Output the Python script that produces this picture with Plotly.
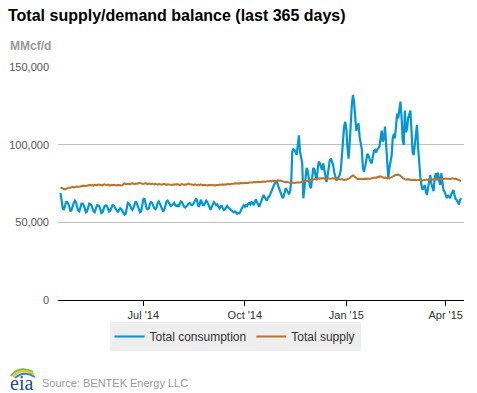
import pandas as pd
import plotly.graph_objects as go

# ---------------- data ----------------
start_date = "2014-04-17"

total_consumption = [
    69000, 64000, 59000, 58000, 61000, 63000, 63000,
    62000, 60000, 57000, 58000, 61000, 62500, 64000,
    63000, 60000, 57500, 57000, 60000, 62000, 62000,
    61000, 59000, 56500, 57000, 60000, 62000, 61500,
    61000, 59000, 57000, 56500, 59500, 61000, 61000,
    60500, 58500, 56000, 56500, 59000, 60500, 61000,
    60500, 59000, 57000, 57500, 59500, 61000, 61000,
    60000, 59000, 57500, 56500, 58000, 59000, 58500,
    57500, 56000, 55000, 55500, 59000, 62500, 62000,
    61000, 59000, 58000, 59000, 62000, 63500, 62500,
    60000, 58000, 56500, 57000, 62000, 64500, 65500,
    62000, 59000, 58500, 59000, 62000, 63000, 62500,
    60000, 59000, 58500, 59500, 62500, 63500, 62000,
    60000, 58500, 57000, 58000, 61000, 63500, 64000,
    63000, 62000, 60500, 61000, 62000, 62500, 61000,
    60500, 61000, 60000, 62000, 63500, 63000, 61000,
    60000, 59500, 60000, 61000, 62000, 62500, 61500,
    61000, 61500, 63000, 65000, 65500, 63000, 60000,
    61000, 64500, 63000, 61000, 61000, 62500, 64000,
    63000, 61000, 59000, 58000, 60000, 62000, 63000,
    62000, 61000, 61500, 60000, 59000, 60000, 61000,
    59000, 58000, 58500, 60000, 60500, 59500, 59000,
    58000, 58000, 57000, 56500, 57000, 56000, 55500,
    56000, 55800, 57000, 59000, 60000, 61000, 60000,
    61000, 60500, 62000, 62500, 61500, 63000, 62600,
    61000, 63000, 64800, 63000, 61000, 60000, 62000,
    64000, 64800, 67600, 66000, 65000, 64000, 66000,
    66500, 68000, 70000, 72000, 74000, 75000, 76000,
    76000, 74000, 72000, 69000, 67000, 66000, 66000,
    69000, 72000, 71000, 69000, 68000, 70000, 76000,
    95500, 97000, 96600, 95000, 93400, 100000, 106000,
    95500, 92000, 88000, 65500, 72000, 80000, 85000,
    83000, 78000, 73000, 72000, 78000, 85000, 84000,
    81000, 77000, 84000, 89000, 88000, 85000, 83700,
    88000, 84000, 80500, 76000, 80000, 84000, 90000,
    91000, 89000, 87000, 82000, 79000, 77000, 78000,
    79000, 80500, 84000, 92000, 105000, 112000, 114800,
    110000, 98000, 91000, 101000, 115000, 126000, 132000,
    127000, 118000, 109000, 112000, 113700, 105000, 100000,
    97000, 85000, 82600, 86000, 90000, 94000, 93000,
    90000, 89000, 88000, 92000, 96000, 96600, 95000,
    97000, 97600, 99000, 104000, 109000, 102000, 104000,
    111600, 100000, 88000, 78300, 85000, 89000, 93000,
    104000, 107000, 104000, 115000, 120000, 117000, 124000,
    127700, 118000, 103000, 99800, 122000, 108000, 110000,
    117000, 120000, 122000, 109000, 95000, 93300, 100000,
    110000, 112700, 98000, 85000, 79400, 74000, 71000,
    72000, 74000, 70000, 67600, 72000, 78000, 80500,
    75000, 72000, 70000, 78000, 81600, 78000, 82000,
    77000, 74000, 81600, 76000, 70800, 69700, 67000,
    65500, 67600, 66000, 65500, 68000, 69700, 70800,
    67600, 65000, 64400, 62200, 61500, 64400, 65500,
]

total_supply = [
    72400, 72100, 71800, 71300, 71200, 71500, 71900,
    72200, 72400, 72300, 72600, 72800, 72500, 72700,
    72900, 73100, 72800, 73000, 73300, 73100, 73400,
    73600, 73300, 73500, 73800, 73600, 73900, 74100,
    73800, 74000, 73700, 74200, 74000, 73800, 74300,
    74100, 74400, 74000, 73800, 74200, 74500, 74100,
    73900, 74300, 74000, 73700, 74100, 73900, 74200,
    74000, 73600, 73800, 74100, 73900, 73500, 73700,
    74000, 74600, 75000, 74700, 74900, 74600, 74800,
    74500, 74900, 75200, 74800, 74600, 75000, 74700,
    74900, 75400, 75100, 74800, 75000, 74700, 74900,
    75200, 74800, 74600, 75000, 74700, 74500, 74900,
    74600, 74400, 74800, 74500, 74300, 74700, 74400,
    74600, 74200, 74500, 74800, 74400, 74100, 74500,
    74300, 74600, 74200, 74000, 74400, 74100, 74500,
    74200, 74600, 74300, 74000, 74400, 74700, 74300,
    74100, 74500, 74200, 74600, 74900, 74500, 74300,
    74600, 74300, 74000, 74400, 74100, 73900, 74300,
    74000, 74400, 74100, 73800, 74200, 73900, 74100,
    73800, 74000, 73700, 73900, 74200, 73800, 74000,
    73700, 74100, 73800, 74000, 74300, 74000, 74200,
    74400, 74100, 74500, 74300, 74600, 74400, 74700,
    74500, 74800, 74600, 74900, 75100, 74800, 75000,
    75200, 74900, 75300, 75100, 75400, 75200, 75500,
    75300, 75600, 75400, 75700, 75500, 75800, 75600,
    75900, 75700, 76000, 75800, 76100, 75900, 76200,
    76000, 76300, 76100, 76400, 76200, 76500, 76300,
    76400, 76600, 76300, 76700, 76500, 76800, 76600,
    76900, 77100, 76700, 76900, 76600, 76400, 76200,
    76000, 75800, 75900, 75600, 75800, 75500, 75700,
    75400, 75600, 75300, 75500, 75700, 75400, 75800,
    75600, 75900, 76200, 76000, 76400, 76700, 76500,
    76900, 77200, 77000, 77400, 77700, 77500, 77800,
    78000, 77700, 78100, 78300, 78000, 78400, 78200,
    78500, 78200, 78000, 78300, 78100, 78400, 78200,
    78000, 78300, 78500, 78200, 78000, 78300, 77900,
    77700, 78000, 77600, 77800, 77500, 77300, 77600,
    77400, 77800, 78000, 78400, 79200, 80000, 80300,
    79600, 78800, 78200, 77900, 78100, 77800, 78000,
    77700, 78000, 77800, 78100, 77900, 78200, 78000,
    77900, 78200, 78400, 78100, 78500, 78800, 78600,
    79000, 79400, 79200, 79600, 79300, 78900, 78600,
    78800, 78500, 78200, 78500, 78300, 78700, 79200,
    79500, 79800, 80300, 80600, 80400, 80800, 80500,
    80100, 79400, 78600, 78000, 77800, 77600, 77900,
    77700, 77400, 77600, 77300, 77500, 77200, 77400,
    77100, 77300, 77000, 77200, 77400, 77100, 76900,
    77200, 77000, 77300, 77500, 77200, 77600, 77400,
    77700, 77500, 77800, 77600, 77900, 77700, 77500,
    77800, 78000, 77700, 77900, 78100, 77800, 78200,
    78000, 78300, 78100, 77900, 78200, 78400, 78100,
    77900, 78200, 77800, 77500, 77200, 76900, 76600,
]

series_names = ["Total consumption", "Total supply"]
x_tick_dates = ["2014-07-01", "2014-10-01", "2015-01-01", "2015-04-01"]
x_tick_labels = ["Jul '14", "Oct '14", "Jan '15", "Apr '15"]
y_tick_values = [0, 50000, 100000, 150000]

dates = pd.date_range(start_date, periods=len(total_consumption), freq="D")

# ---------------- layout helpers ----------------
# The page body has an 8px default margin, so the figure is drawn 8px
# smaller and every target pixel position is shifted by that offset.
OFF = 8
WIN_W, WIN_H = 477, 393
W, H = WIN_W - OFF, WIN_H - OFF
# plot area in window pixels: x 58..464, y 67..300
PL, PR, PT, PB = 58, 464, 67, 300
L, R, T, B = PL - OFF, W - (PR - OFF), PT - OFF, H - (PB - OFF)
PW, PH = PR - PL, PB - PT


def px(x):  # window pixel -> paper
    return (x - PL) / PW


def py(y):
    return (PB - y) / PH


FONT = "Liberation Sans, Arial, sans-serif"

fig = go.Figure()
fig.add_trace(go.Scatter(x=dates, y=total_consumption, name=series_names[0],
                         mode="lines", line=dict(color="#0096d7", width=2.2)))
fig.add_trace(go.Scatter(x=dates, y=total_supply, name=series_names[1],
                         mode="lines", line=dict(color="#bd732a", width=2)))

fig.update_layout(
    width=W, height=H,
    margin=dict(l=L, r=R, t=T, b=B, pad=0, autoexpand=False),
    paper_bgcolor="white", plot_bgcolor="white",
    font=dict(family=FONT, size=11, color="#333"),
    showlegend=True,
    legend=dict(orientation="h", x=px(235), xanchor="center",
                y=py(322), yanchor="top",
                bgcolor="#eeeeee", borderwidth=0,
                font=dict(size=12, color="#333"),
                itemwidth=30, tracegroupgap=0),
    title=dict(text="<b>Total supply/demand balance (last 365 days)</b>",
               x=0, xanchor="left", xref="container",
               y=1 - 2 / H, yanchor="top", yref="container", pad=dict(t=0, l=0),
               font=dict(size=16, color="#000", family=FONT)),
)

fig.update_xaxes(
    range=["2014-04-14 17:00", "2015-04-17 14:00"],
    tickvals=x_tick_dates, ticktext=x_tick_labels,
    showgrid=False, zeroline=False, automargin=False,
    showline=True, linecolor="#000", linewidth=1,
    ticks="outside", ticklen=5, tickcolor="#000",
    tickfont=dict(size=11, color="#333"),
)
fig.update_yaxes(
    range=[0, 150000], tickvals=y_tick_values, tickformat=",",
    showgrid=True, gridcolor="#c0c0c0", gridwidth=1,
    zeroline=False, showline=False, ticks="", automargin=False,
    ticklabelstandoff=8,
    tickfont=dict(size=11, color="#555"),
)

# y-axis unit label
fig.add_annotation(text="<b>MMcf/d</b>", xref="paper", yref="paper",
                   x=px(OFF), y=py(46), xanchor="left", yanchor="middle",
                   showarrow=False, font=dict(size=12, color="#999", family=FONT))

# source
fig.add_annotation(text="Source: BENTEK Energy LLC", xref="paper", yref="paper",
                   x=px(40), y=py(383), xanchor="left", yanchor="middle",
                   showarrow=False, font=dict(size=11, color="#999", family=FONT))

# eia logo (text + swooshes)
fig.add_annotation(text="eia", xref="paper", yref="paper",
                   x=px(OFF), y=py(383), xanchor="left", yanchor="middle",
                   showarrow=False,
                   font=dict(size=20, color="#1b4f8a",
                             family="Liberation Serif, DejaVu Serif, serif"))


def qpath(p0, c, p1):
    return "M {} {} Q {} {} {} {}".format(px(p0[0]), py(p0[1]), px(c[0]), py(c[1]),
                                          px(p1[0]), py(p1[1]))


for (p0, c, p1), col in [
    (((11, 376), (19, 365), (33, 372)), "#7ab648"),
    (((13, 377), (21, 367), (34, 374)), "#f2c318"),
    (((15, 378), (24, 370), (35, 377)), "#1f8fd0"),
]:
    fig.add_shape(type="path", xref="paper", yref="paper",
                  path=qpath(p0, c, p1), line=dict(color=col, width=2))

fig.write_html("out.html")
